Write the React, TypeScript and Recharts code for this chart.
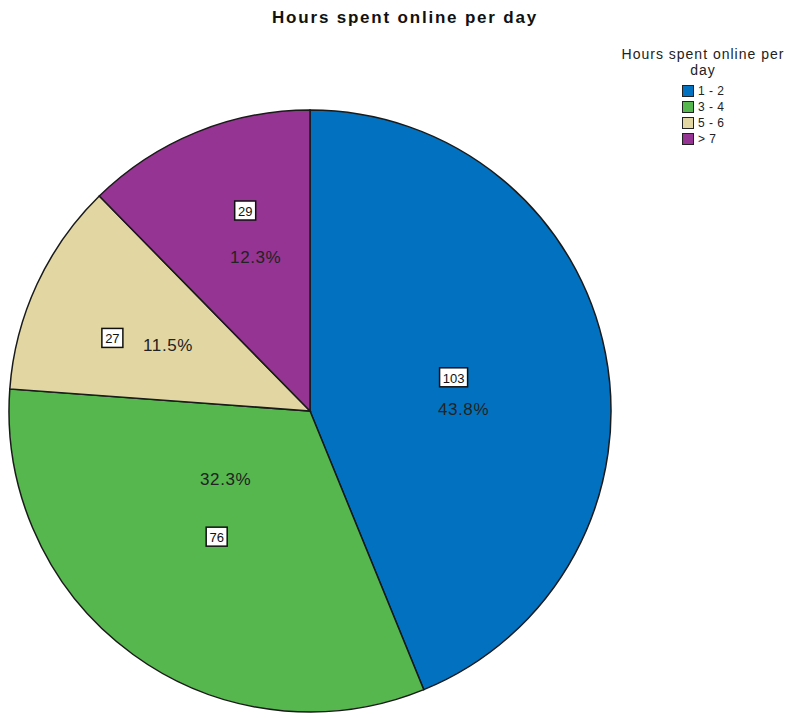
import { Pie, PieChart, Cell } from "recharts"

const categories = ["1 - 2", "3 - 4", "5 - 6", "> 7"]
const counts = [103, 76, 27, 29]
const colors = ["#0272C0", "#56B74E", "#E2D7A2", "#953492"]

// label placement relative to each slice's mid angle (radius fraction, angle offset in deg)
const labelLayout = [
  { pctR: 0.51, pctDA: -10.4, boxR: 0.49, boxDA: 2.1 },
  { pctR: 0.36, pctDA: -15.1, boxR: 0.52, boxDA: -0.6 },
  { pctR: 0.52, pctDA: 0, boxR: 0.7, boxDA: 4.6 },
  { pctR: 0.54, pctDA: -2.7, boxR: 0.7, boxDA: -4.3 },
]

const RAD = Math.PI / 180
const total = counts.reduce((a, b) => a + b, 0)
const data = categories.map((name, i) => ({ name, value: counts[i] }))
const font = "Liberation Sans, Arial, sans-serif"

const polar = (cx: number, cy: number, r: number, deg: number) => ({
  x: cx + r * Math.cos(-deg * RAD),
  y: cy + r * Math.sin(-deg * RAD),
})

function SliceLabel(props: any) {
  const { cx, cy, midAngle, outerRadius, value, index } = props
  const l = labelLayout[index]
  const p = polar(cx, cy, outerRadius * l.pctR, midAngle + l.pctDA)
  const b = polar(cx, cy, outerRadius * l.boxR, midAngle + l.boxDA)
  const pct = ((value / total) * 100).toFixed(1) + "%"
  const w = String(value).length * 7 + 7
  return (
    <g>
      <text x={p.x} y={p.y} textAnchor="middle" dominantBaseline="central" fontSize={17} letterSpacing={0.6} fill="#222" fontFamily={font}>
        {pct}
      </text>
      <rect x={b.x - w / 2} y={b.y - 9.5} width={w} height={19} fill="#fff" stroke="#111" strokeWidth={1.5} />
      <text x={b.x} y={b.y + 1} textAnchor="middle" dominantBaseline="central" fontSize={13} fill="#111" fontFamily={font}>
        {value}
      </text>
    </g>
  )
}

function LegendBox() {
  return (
    <div style={{ position: "absolute", top: 46, left: 618, width: 170, fontFamily: font, color: "#222" }}>
      <div style={{ textAlign: "center", fontSize: 14, letterSpacing: 1, lineHeight: "16px" }}>
        <div>Hours spent online per</div>
        <div>day</div>
      </div>
      <div style={{ marginLeft: 64, marginTop: 5 }}>
        {categories.map((c, i) => (
          <div key={c} style={{ display: "flex", alignItems: "center", height: 16, fontSize: 12, letterSpacing: 0.5 }}>
            <span style={{ width: 10, height: 10, background: colors[i], border: "1.5px solid #222", marginRight: 4, display: "inline-block" }} />
            {c}
          </div>
        ))}
      </div>
    </div>
  )
}

export default function App() {
  return (
    <div style={{ position: "absolute", left: 0, top: 0, width: 790, height: 718, background: "#fff" }}>
      <div
        style={{
          position: "absolute",
          top: 8,
          left: 0,
          width: 810,
          textAlign: "center",
          fontFamily: font,
          fontWeight: "bold",
          fontSize: 17,
          letterSpacing: 1.8,
          color: "#111",
        }}
      >
        Hours spent online per day
      </div>
      <LegendBox />
      <PieChart width={790} height={718} margin={{ top: 0, right: 0, bottom: 0, left: 0 }}>
        <Pie
          data={data}
          dataKey="value"
          nameKey="name"
          cx={310}
          cy={411}
          outerRadius={301}
          startAngle={90}
          endAngle={-270}
          stroke="#1a1a1a"
          strokeWidth={1.5}
          label={SliceLabel}
          labelLine={false}
          isAnimationActive={false}
        >
          {data.map((d, i) => (
            <Cell key={d.name} fill={colors[i]} />
          ))}
        </Pie>
      </PieChart>
    </div>
  )
}
